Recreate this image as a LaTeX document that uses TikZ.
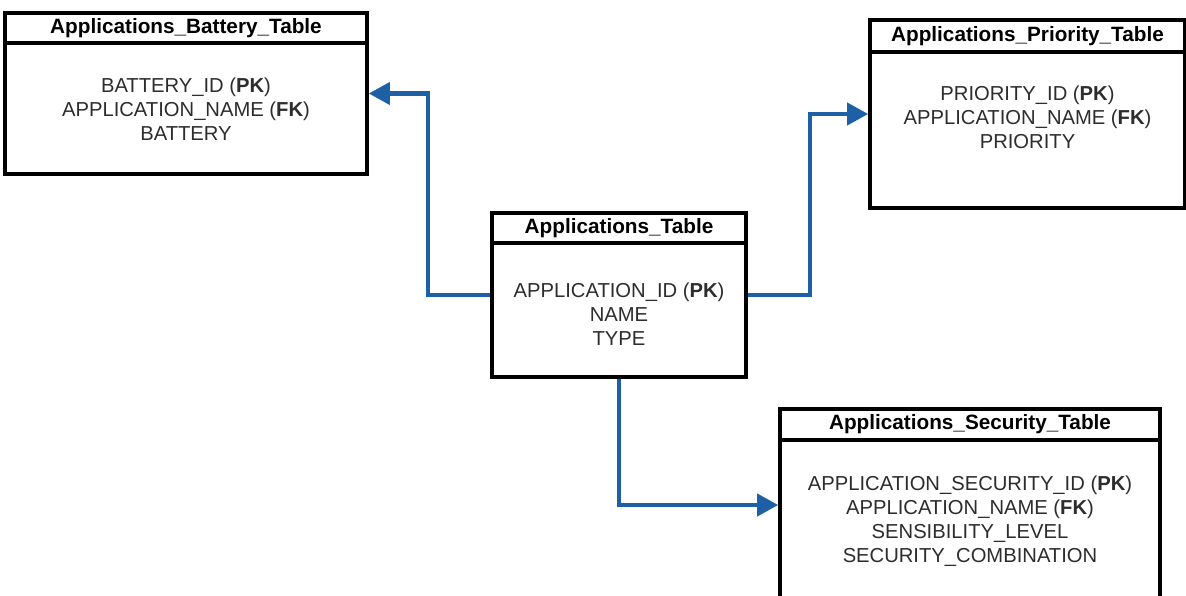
\documentclass[tikz,border=0pt]{standalone}
\usepackage{fontspec}
\setmainfont{Liberation Sans}
\usetikzlibrary{arrows.meta,positioning}
\definecolor{LinkBlue}{RGB}{30,96,166}
\definecolor{FieldGray}{RGB}{45,45,45}

\begin{document}
\begin{tikzpicture}[
  table/.style={
    draw,
    fill=white,
    line width=2.1pt,
    inner sep=0pt
  },
  head/.style={
    draw,
    line width=2.1pt,
    minimum height=0.6cm,
    anchor=north,
    inner sep=0pt,
    font=\fontsize{11.8}{14}\selectfont\bfseries
  },
  fields/.style={align=center, inner sep=0pt, text=FieldGray, font=\fontsize{11.5}{13.6}\selectfont},
  link/.style={draw=LinkBlue, line width=2.3pt, -{Triangle[length=0.42cm,width=0.44cm]}}
]
\useasboundingbox (0,0) rectangle (23.72,-11.92);
\clip (0,0) rectangle (23.72,-11.92);

% tables
\node[table,minimum width=7.24cm,minimum height=3.22cm] (battery) at (3.72,-1.87) {};
\node[head,minimum width=7.24cm] (batteryhead) at (battery.north) {Applications\_Battery\_Table};
\node[fields,below=0.66cm of batteryhead] (batteryfields)
{BATTERY\_ID (\textbf{PK})\\APPLICATION\_NAME (\textbf{FK})\\BATTERY};

\node[table,minimum width=6.30cm,minimum height=3.76cm] (prio) at (20.55,-2.28) {};
\node[head,minimum width=6.30cm,minimum height=0.64cm] (priohead) at (prio.north) {Applications\_Priority\_Table};
\node[fields,below=0.64cm of priohead] (priofields)
{PRIORITY\_ID (\textbf{PK})\\APPLICATION\_NAME (\textbf{FK})\\PRIORITY};

\node[table,minimum width=5.08cm,minimum height=3.28cm] (apps) at (12.38,-5.90) {};
\node[head,minimum width=5.08cm] (appshead) at (apps.north) {Applications\_Table};
\node[fields,below=0.76cm of appshead] (appsfields)
{APPLICATION\_ID (\textbf{PK})\\NAME\\TYPE};

\node[table,minimum width=7.60cm,minimum height=3.84cm] (sec) at (19.40,-10.10) {};
\node[head,minimum width=7.60cm,minimum height=0.62cm] (sechead) at (sec.north) {Applications\_Security\_Table};
\node[fields,below=0.68cm of sechead] (secfields)
{APPLICATION\_SECURITY\_ID (\textbf{PK})\\APPLICATION\_NAME (\textbf{FK})\\SENSIBILITY\_LEVEL\\SECURITY\_COMBINATION};

% links
\draw[link] (apps.west) -- ++(-1.24,0) |- (battery.east);
\draw[link] (apps.east) -- ++(1.24,0) |- (prio.west);
\draw[link] (apps.south) |- (sec.west);
\end{tikzpicture}
\end{document}
